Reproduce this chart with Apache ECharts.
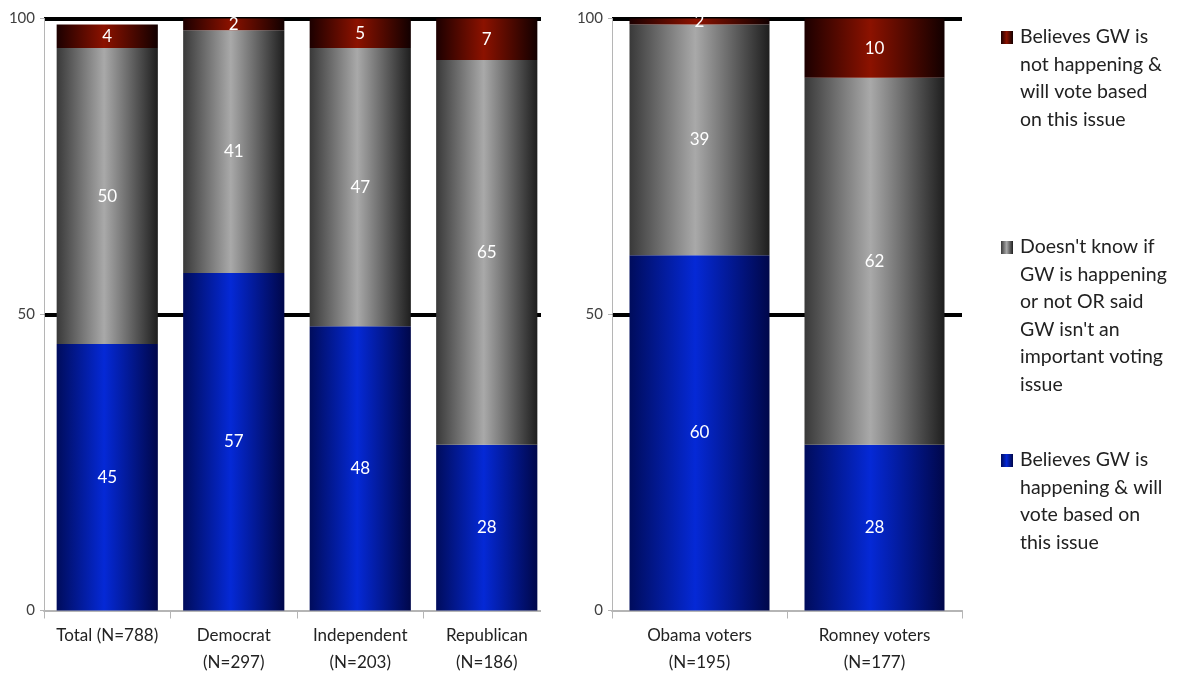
<!DOCTYPE html>
<html>
<head>
<meta charset="utf-8">
<script src="https://cdn.jsdelivr.net/npm/echarts@6/dist/echarts.min.js"></script>
<style>html,body{margin:0;padding:0;background:#fff}#c{width:1181px;height:681px}</style>
</head>
<body>
<div id="c"></div>
<script>
var categoriesLeft = ['Total (N=788)', 'Democrat\n(N=297)', 'Independent\n(N=203)', 'Republican\n(N=186)'];
var categoriesRight = ['Obama voters\n(N=195)', 'Romney voters\n(N=177)'];
var seriesNames = [
  'Believes GW is happening & will vote based on this issue',
  "Doesn't know if GW is happening or not OR said GW isn't an important voting issue",
  'Believes GW is not happening & will vote based on this issue'
];
var happeningLeft = [45, 57, 48, 28];
var dontKnowLeft = [50, 41, 47, 65];
var notHappeningLeft = [4, 2, 5, 7];
var happeningRight = [60, 28];
var dontKnowRight = [39, 62];
var notHappeningRight = [2, 10];
var yTicks = [0, 50, 100];
var legendLines = [
  'Believes GW is\nnot happening &\nwill vote based\non this issue',
  "Doesn't know if\nGW is happening\nor not OR said\nGW isn't an\nimportant voting\nissue",
  'Believes GW is\nhappening & will\nvote based on\nthis issue'
];

function grad(dark1, light, dark2) {
  return new echarts.graphic.LinearGradient(0, 0, 1, 0, [
    {offset: 0, color: dark1},
    {offset: 0.47, color: light},
    {offset: 1, color: dark2}
  ]);
}
var blueFill = grad('#000c5c', '#0529d6', '#00074a');
var grayFill = grad('#393939', '#a9a9a9', '#1e1e1e');
var redFill = grad('#1c0000', '#8c1200', '#120000');
var fills = [blueFill, grayFill, redFill];

var FONT = 'Lato';
var lbl = {show: true, position: 'inside', color: '#fff', fontSize: 17, fontFamily: FONT};

function mkSeries(idx, stack, data, gap) {
  return [0,1,2].map(function(i){
    return {
      name: seriesNames[i], type: 'bar', stack: stack,
      xAxisIndex: idx, yAxisIndex: idx,
      data: data[i], barCategoryGap: gap,
      itemStyle: {color: fills[i]},
      label: lbl, clip: true
    };
  });
}

function yAxis(idx) {
  return {
    type: 'value', gridIndex: idx, min: 0, max: 100, interval: 50,
    axisLine: {show: true, lineStyle: {color: '#b5b5b5', width: 1}},
    axisTick: {show: true, length: 4, lineStyle: {color: '#b5b5b5'}},
    axisLabel: {color: '#404040', fontSize: 15, fontFamily: FONT, margin: 9,
      formatter: function(v){ return yTicks.indexOf(v) >= 0 ? String(v) : ''; }},
    splitLine: {show: true, lineStyle: {color: ['rgba(0,0,0,0)', '#000', '#000'], width: 4}}
  };
}
function xAxis(idx, cats) {
  return {
    type: 'category', gridIndex: idx, data: cats,
    axisLine: {show: true, lineStyle: {color: '#b5b5b5', width: 2}},
    axisTick: {show: true, length: 8, lineStyle: {color: '#b5b5b5'}},
    axisLabel: {interval: 0, color: '#222', fontSize: 17, fontFamily: FONT, lineHeight: 27, margin: 12}
  };
}

var legendG = [];
var legendY = [23, 233, 446];
var legendFill = [redFill, grayFill, blueFill];
for (var i = 0; i < 3; i++) {
  legendG.push({type: 'rect', shape: {x: 1001, y: legendY[i] + 8, width: 12, height: 13},
    style: {fill: legendFill[i]}});
  legendG.push({type: 'text', x: 1020, y: legendY[i],
    style: {text: legendLines[i], font: '19.5px ' + FONT, lineHeight: 27.6, fill: '#222', verticalAlign: 'top'}});
}
// the left plot is cropped on its right side in the reference
legendG.push({type: 'rect', z: 100, shape: {x: 541, y: 0, width: 16, height: 626}, style: {fill: '#fff'}});

var chart = echarts.init(document.getElementById('c'));
chart.setOption({
  animation: false,
  grid: [
    {left: 44, top: 18.5, width: 506, height: 592},
    {left: 612, top: 18.5, width: 350, height: 592}
  ],
  xAxis: [xAxis(0, categoriesLeft), xAxis(1, categoriesRight)],
  yAxis: [yAxis(0), yAxis(1)],
  series: mkSeries(0, 'L', [happeningLeft, dontKnowLeft, notHappeningLeft], '20%')
    .concat(mkSeries(1, 'R', [happeningRight, dontKnowRight, notHappeningRight], '20%')),
  graphic: legendG
});
</script>
</body>
</html>
